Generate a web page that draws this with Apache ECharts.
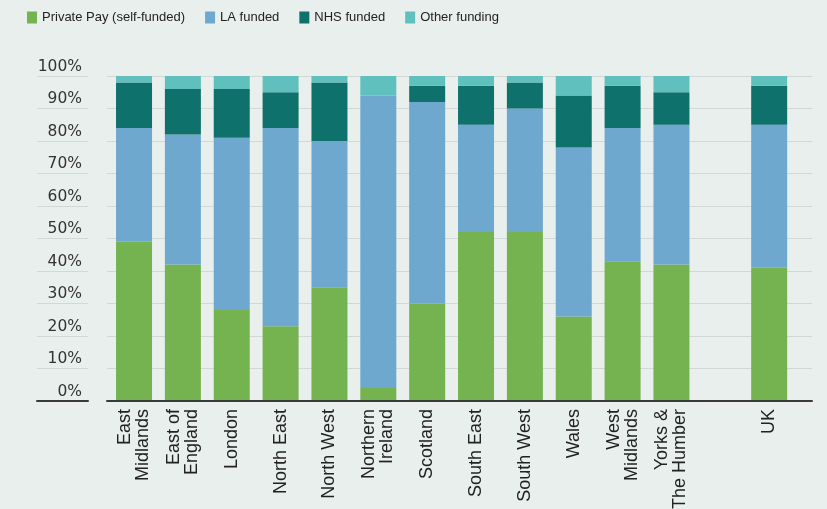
<!DOCTYPE html>
<html>
<head>
<meta charset="utf-8">
<script src="https://cdn.jsdelivr.net/npm/echarts@6/dist/echarts.min.js"></script>
<style>
  html, body { margin: 0; padding: 0; background: #e9efed; }
  #chart { width: 827px; height: 509px; }
</style>
</head>
<body>
<div id="chart"></div>
<script>
// Care home funding mix by region (share of residents, %)
const regions = [
  'East\nMidlands', 'East of\nEngland', 'London', 'North East', 'North West',
  'Northern\nIreland', 'Scotland', 'South East', 'South West', 'Wales',
  'West\nMidlands', 'Yorks &\nThe Humber', '', 'UK'
];
const privatePay = [49, 42, 28, 23, 35, 4, 30, 52, 52, 26, 43, 42, null, 41];
const laFunded   = [35, 40, 53, 61, 45, 90, 62, 33, 38, 52, 41, 43, null, 44];
const nhsFunded  = [14, 14, 15, 11, 18, 0, 5, 12, 8, 16, 13, 10, null, 12];
const otherFund  = [2, 4, 4, 5, 2, 6, 3, 3, 2, 6, 3, 5, null, 3];
const yTicks = [0, 10, 20, 30, 40, 50, 60, 70, 80, 90, 100];

const colors = {
  private: '#74b350',
  la: '#6ea8cf',
  nhs: '#0e716c',
  other: '#5fc0be'
};

const FONT = '"Liberation Sans", Arial, sans-serif';
const TICK_FONT = '"DejaVu Sans", Verdana, sans-serif';
const TOP = 76, BOTTOM = 108;

const chart = echarts.init(document.getElementById('chart'), null, { renderer: 'canvas' });

const gridLine = { show: true, lineStyle: { color: '#d3d8d6', width: 1 } };
const baseLine = { show: true, lineStyle: { color: '#3a3a3a', width: 2 } };

function stackSeries(name, data, color) {
  return {
    name, type: 'bar', stack: 'total', data,
    xAxisIndex: 2, yAxisIndex: 2,
    barWidth: 36,
    itemStyle: { color },
    emphasis: { disabled: true }
  };
}

chart.setOption({
  animation: false,
  backgroundColor: '#e9efed',
  textStyle: { fontFamily: FONT },
  legend: {
    left: 27, top: 11, padding: 0,
    icon: 'rect', itemWidth: 10, itemHeight: 12, itemGap: 20,
    textStyle: { fontSize: 13, color: '#222', fontFamily: FONT },
    data: ['Private Pay (self-funded)', 'LA funded', 'NHS funded', 'Other funding']
  },
  grid: [
    { left: 37, width: 51, top: TOP, bottom: BOTTOM, outerBoundsMode: 'none' },
    { left: 107, right: 15, top: TOP, bottom: BOTTOM, outerBoundsMode: 'none' },
    { left: 109.6, width: 684, top: TOP, bottom: BOTTOM, outerBoundsMode: 'none' }
  ],
  xAxis: [
    { gridIndex: 0, type: 'value', min: 0, max: 1, axisLine: baseLine, axisTick: { show: false }, axisLabel: { show: false }, splitLine: { show: false } },
    { gridIndex: 1, type: 'value', min: 0, max: 1, z: 5, axisLine: baseLine, axisTick: { show: false }, axisLabel: { show: false }, splitLine: { show: false } },
    {
      gridIndex: 2, type: 'category', data: regions,
      axisLine: { show: false }, axisTick: { show: false },
      axisLabel: {
        interval: 0, rotate: 90, margin: 8,
        fontSize: 18, lineHeight: 18, color: '#222', fontFamily: FONT
      }
    }
  ],
  yAxis: [
    {
      gridIndex: 0, type: 'value', min: 0, max: 100, interval: 10,
      axisLine: { show: false }, axisTick: { show: false },
      splitLine: gridLine,
      axisLabel: {
        inside: true, margin: 45, align: 'right',
        verticalAlign: 'bottom', lineHeight: 15, padding: [0, 0, 2, 0],
        fontSize: 15.5, color: '#333', fontFamily: TICK_FONT,
        formatter: v => yTicks.includes(v) ? v + '%' : ''
      }
    },
    {
      gridIndex: 1, type: 'value', min: 0, max: 100, interval: 10,
      axisLine: { show: false }, axisTick: { show: false }, axisLabel: { show: false },
      splitLine: gridLine
    },
    {
      gridIndex: 2, type: 'value', min: 0, max: 100, interval: 10,
      show: false, splitLine: { show: false }
    }
  ],
  series: [
    stackSeries('Private Pay (self-funded)', privatePay, colors.private),
    stackSeries('LA funded', laFunded, colors.la),
    stackSeries('NHS funded', nhsFunded, colors.nhs),
    stackSeries('Other funding', otherFund, colors.other)
  ]
});
</script>
</body>
</html>
